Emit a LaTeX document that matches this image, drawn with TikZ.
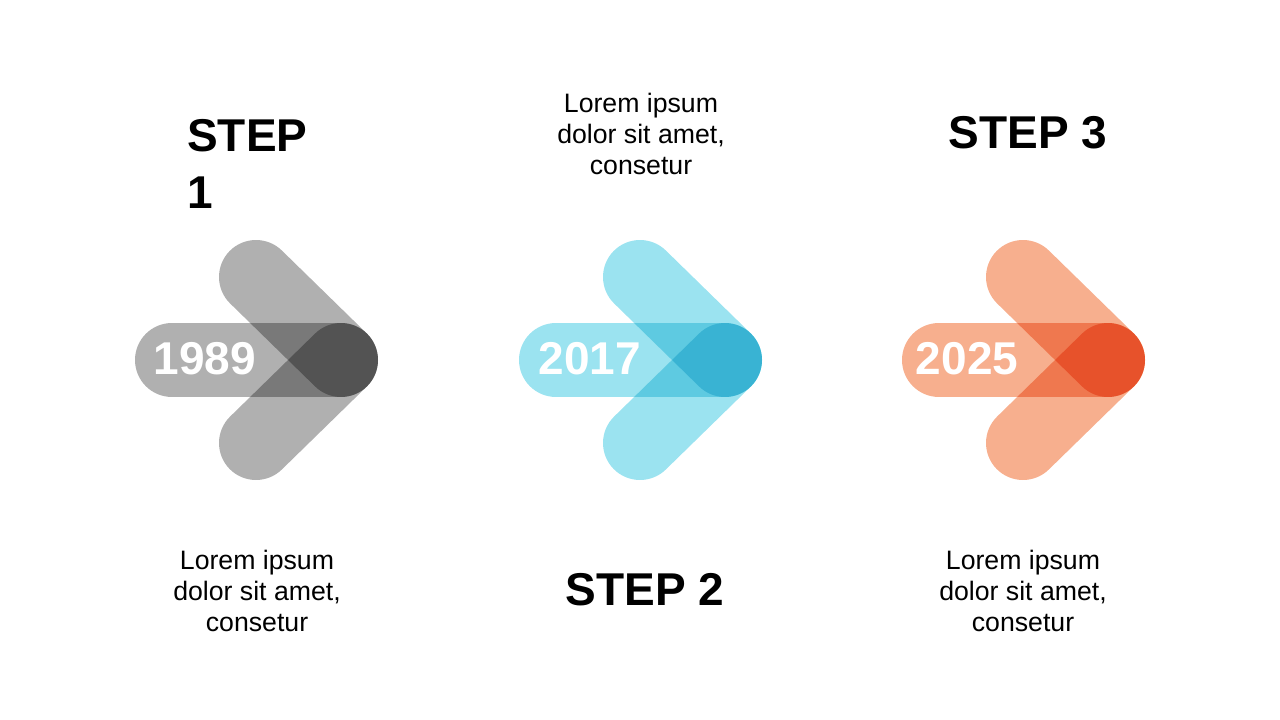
\documentclass[tikz,border=0pt]{standalone}
\usepackage{fontspec}
\setmainfont{Liberation Sans}
\usetikzlibrary{positioning}

\definecolor{greyarrow}{HTML}{B0B0B0}
\definecolor{bluearrow}{HTML}{9BE3F0}
\definecolor{orangearrow}{HTML}{F7AF8E}

\begin{document}
\begin{tikzpicture}[x=0.75pt, y=-0.75pt,
    bar/.style={line width=55.5pt, line cap=round},
    yearnode/.style={text=white, inner sep=0, font=\fontsize{34.5}{43}\selectfont\bfseries},
    stepnode/.style={inner sep=0, font=\fontsize{34.5}{43}\selectfont\bfseries},
    textnode/.style={align=center, inner sep=0, font=\fontsize{20}{23.3}\selectfont}
    ]
    \useasboundingbox (0,0) rectangle (1280,720);

        %Arrows
        \begin{scope}[blend mode=multiply]
        \foreach \x/\c in {0/greyarrow, 384/bluearrow, 767/orangearrow}{
            \draw[bar, draw=\c] (172+\x,360) -- (341+\x,360);
            \draw[bar, draw=\c] (256+\x,277) -- (341+\x,360);
            \draw[bar, draw=\c] (256+\x,443) -- (341+\x,360);
        }
        \end{scope}

        %Years
        \node[yearnode] (y1989) at (205,359) {1989};
        \node[yearnode] (y2017) at (590,359) {2017};
        \node[yearnode] (y2025) at (967,359) {2025};

        %Steps
        \node[stepnode, align=left, anchor=north west] 
            (step1) at (187,119) {STEP\\1};
        \node[stepnode] (step2) at (645,590) {STEP 2};
        \node[stepnode] (step3) at (1028,133) {STEP 3};

        %Texts
        \node[textnode] (text2) at (641,134) {Lorem ipsum\\dolor sit amet,\\consetur};
        \node[textnode] (text1) at (257,591) {Lorem ipsum\\dolor sit amet,\\consetur};
        \node[textnode] (text3) at (1023,591) {Lorem ipsum\\dolor sit amet,\\consetur};
\end{tikzpicture}
\end{document}
